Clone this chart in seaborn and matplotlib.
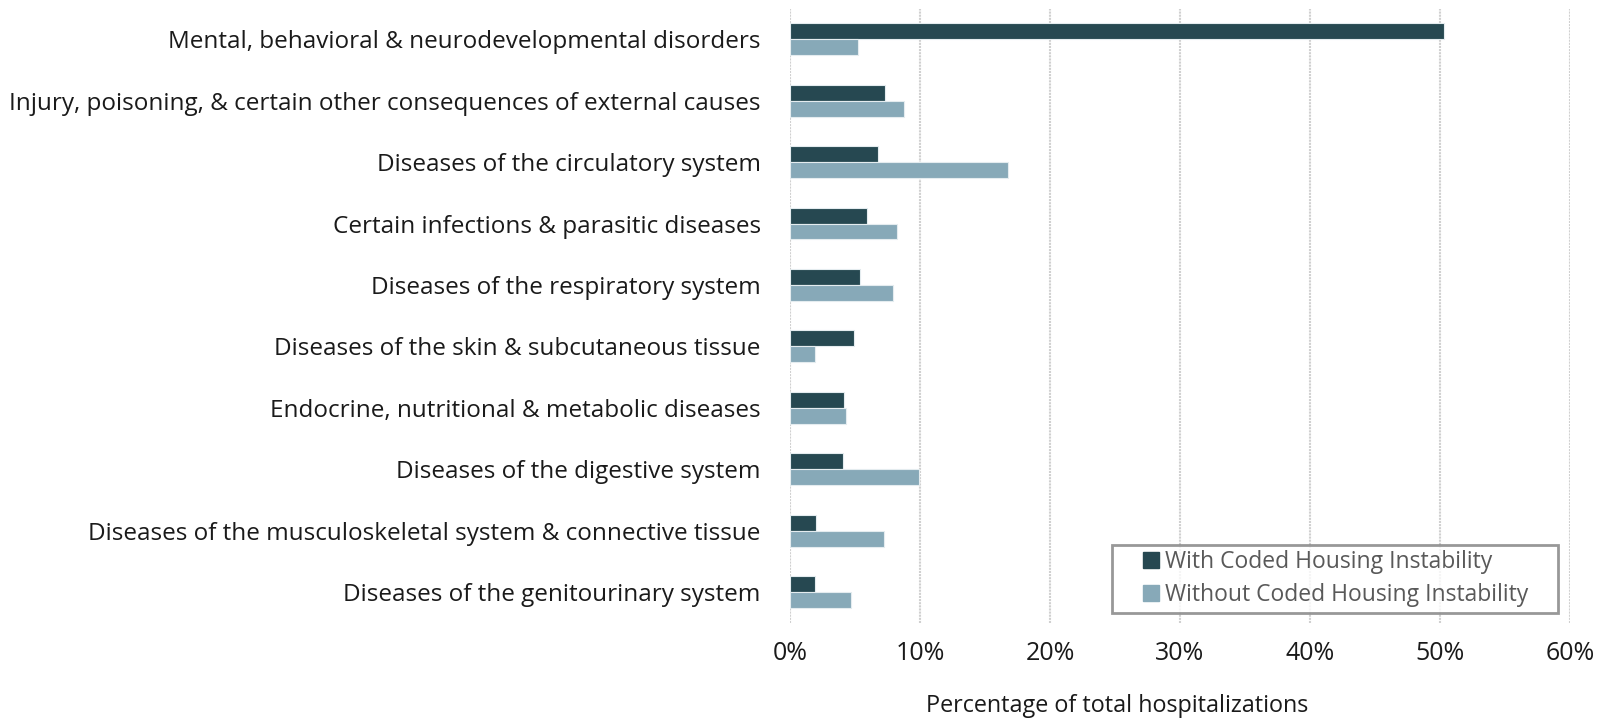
import matplotlib
matplotlib.use("Agg")
import matplotlib.pyplot as plt
import matplotlib.ticker as mtick
from matplotlib.lines import Line2D
import pandas as pd
import seaborn as sns

sns.set_theme(style="white")
plt.rcParams["font.family"] = ["Open Sans", "DejaVu Sans"]

categories = [
    "Mental, behavioral & neurodevelopmental disorders",
    "Injury, poisoning, & certain other consequences of external causes",
    "Diseases of the circulatory system",
    "Certain infections & parasitic diseases",
    "Diseases of the respiratory system",
    "Diseases of the skin & subcutaneous tissue",
    "Endocrine, nutritional & metabolic diseases",
    "Diseases of the digestive system",
    "Diseases of the musculoskeletal system & connective tissue",
    "Diseases of the genitourinary system",
]
with_housing = [50.3, 7.3, 6.8, 5.9, 5.4, 4.9, 4.15, 4.05, 2.0, 1.9]
without_housing = [5.2, 8.8, 16.75, 8.25, 7.9, 1.9, 4.3, 9.95, 7.2, 4.7]
groups = ["With Coded Housing Instability", "Without Coded Housing Instability"]
colors = ["#264851", "#87a9b8"]

df = pd.DataFrame({
    "category": categories * 2,
    "group": [groups[0]] * len(categories) + [groups[1]] * len(categories),
    "value": with_housing + without_housing,
})

fig = plt.figure(figsize=(16.04, 7.22), dpi=100)
ax = fig.add_axes([0.4925, 0.1376, 0.4863, 0.8505])

sns.barplot(data=df, x="value", y="category", hue="group", order=categories,
            hue_order=groups, palette=colors, saturation=1, width=0.52,
            orient="h", edgecolor="#e4ecef", linewidth=0.8, ax=ax, legend=False)

ax.set_xlim(0, 60)
ax.set_ylim(len(categories) - 0.5, -0.5)
ax.xaxis.set_major_locator(mtick.MultipleLocator(10))
ax.xaxis.set_major_formatter(mtick.PercentFormatter(decimals=0))
ax.grid(axis="x", color="#d0d0d0", linewidth=1.5, linestyle=(0, (1, 0.5)))
ax.set_axisbelow(True)
for s in ax.spines.values():
    s.set_visible(False)
ax.tick_params(axis="y", length=0, pad=21, labelsize=17.5, labelcolor="#1a1a1a")
ax.tick_params(axis="x", length=0, pad=13.3, labelsize=18, labelcolor="#1a1a1a")
ax.set_ylabel("")
ax.set_xlabel("Percentage of total hospitalizations", fontsize=16.8,
              color="#1a1a1a", va="top")
ax.xaxis.set_label_coords(0.419, -0.116)

handles = [Line2D([], [], linestyle="none", marker="s", markersize=11.2,
                  markerfacecolor=c, markeredgecolor=c) for c in colors]
leg = ax.legend(handles, groups, loc="lower left",
                bbox_to_anchor=(0.4124, 0.0163, 0.5722, 0.1), mode="expand",
                fontsize=16.5, frameon=True, fancybox=False, edgecolor="#7f7f7f",
                handlelength=2.9, handletextpad=-0.84,
                labelspacing=0.37, borderpad=0.25, borderaxespad=0)
leg.get_frame().set_linewidth(2)
for t in leg.get_texts():
    t.set_color("#595959")

fig.savefig("out.png", dpi=100)
